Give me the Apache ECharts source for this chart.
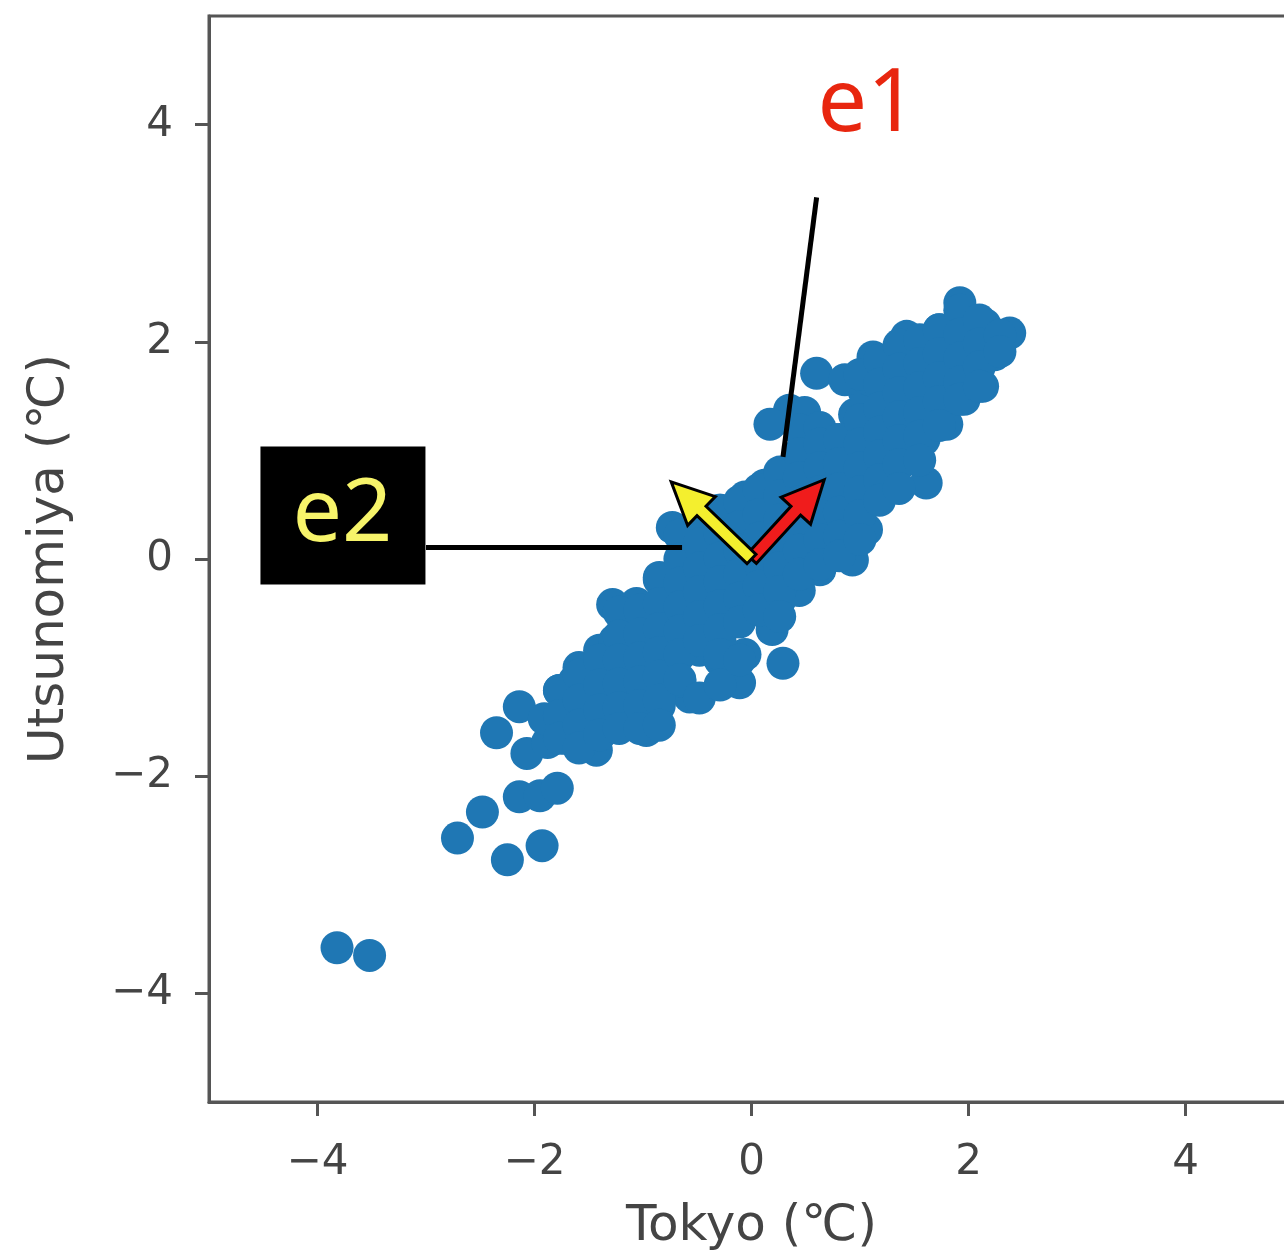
<!DOCTYPE html>
<html>
<head>
<meta charset="utf-8">
<script src="https://cdn.jsdelivr.net/npm/echarts@6/dist/echarts.min.js"></script>
<style>
html, body { margin: 0; background: #fff; }
#chart { width: 1284px; height: 1260px; }
</style>
</head>
<body>
<div id="chart"></div>
<script>
// temperature anomalies, Tokyo (x) vs Utsunomiya (y)
var tokyo = [-3.82,-3.52,-2.71,-2.48,-2.25,-1.93,-2.14,-1.95,-1.79,-2.35,
  -2.14,-2.07,-1.88,-1.72,-1.43,-1.91,-1.72,-1.54,-1.59,-1.40,
  -1.49,-1.31,-1.22,-1.03,-0.97,-1.35,-1.17,-1.03,-0.85,-0.57,
  -0.66,-0.85,-1.26,-1.06,-1.03,-0.85,-0.85,-0.89,-0.66,-0.71,
  -0.48,-0.29,-0.11,-0.29,-0.06,0.29,0.19,-0.48,-0.53,-0.34,
  -0.11,-0.16,0.07,0.26,-0.57,-0.39,-0.73,-0.48,-0.29,-0.06,
  -0.20,0.07,0.03,0.26,0.44,0.44,0.63,0.53,0.93,0.81,
  1.06,0.21,0.35,0.12,0.44,0.72,0.90,0.63,0.86,1.09,
  1.27,1.61,1.41,1.18,1.00,0.76,0.53,0.35,0.17,0.49,
  0.95,1.18,1.36,1.59,1.80,1.64,1.41,1.18,1.04,0.60,
  1.12,1.09,1.32,1.55,1.78,1.96,2.13,1.43,1.64,1.82,
  2.06,2.24,1.92,1.92,2.15,2.38,1.73,-0.02,-0.25,0.17,
  -1.12,-1.31,-1.63,-1.77,-0.06,0.44,0.67,0.86,1.09,1.32,
  1.50,1.04,-1.28,0.86,
  -1.77,-1.77,-1.77,
  -1.59,-1.59,-1.59,-1.59,
  -1.40,-1.40,-1.40,-1.40,
  -1.22,-1.22,-1.22,-1.22,-1.22,-1.22,
  -1.03,-1.03,-1.03,-1.03,-1.03,-1.03,
  -0.85,-0.85,-0.85,-0.85,-0.85,-0.85,-0.85,
  -0.66,-0.66,-0.66,-0.66,-0.66,-0.66,-0.66,
  -0.48,-0.48,-0.48,-0.48,-0.48,-0.48,-0.48,
  -0.29,-0.29,-0.29,-0.29,-0.29,-0.29,-0.29,-0.29,
  -0.11,-0.11,-0.11,-0.11,-0.11,-0.11,-0.11,
  0.07,0.07,0.07,0.07,0.07,0.07,
  0.26,0.26,0.26,0.26,0.26,0.26,0.26,
  0.44,0.44,0.44,0.44,0.44,0.44,0.44,
  0.63,0.63,0.63,0.63,0.63,0.63,0.63,
  0.81,0.81,0.81,0.81,0.81,0.81,
  1.00,1.00,1.00,1.00,1.00,1.00,1.00,
  1.18,1.18,1.18,1.18,1.18,1.18,1.18,
  1.36,1.36,1.36,1.36,1.36,1.36,1.36,
  1.55,1.55,1.55,1.55,1.55,1.55,
  1.73,1.73,1.73,1.73,1.73,
  1.92,1.92,1.92,1.92,1.92,
  2.10,2.10,2.10,2.10,
  2.29,2.29];
var utsunomiya = [-3.58,-3.65,-2.57,-2.33,-2.77,-2.64,-2.19,-2.18,-2.11,-1.60,
  -1.36,-1.79,-1.69,-1.65,-1.76,-1.47,-1.35,-1.21,-1.00,-0.84,
  -1.48,-1.53,-1.30,-1.48,-1.58,-1.12,-1.02,-1.21,-1.35,-1.27,
  -1.12,-1.12,-0.75,-0.41,-0.75,-0.84,-0.17,-0.56,-0.47,-0.75,
  -0.84,-0.93,-1.14,-0.75,-0.88,-0.96,-0.65,-0.56,-0.29,-0.38,
  -0.56,-0.29,-0.47,-0.38,-0.06,0.08,0.29,0.27,0.45,0.57,
  0.18,-0.01,0.27,0.18,-0.01,-0.29,-0.10,0.27,-0.01,0.13,
  0.27,0.45,0.64,0.68,0.82,0.54,0.45,0.91,0.82,0.54,
  0.73,0.70,0.91,1.00,1.10,1.10,1.10,1.37,1.24,1.35,
  1.33,1.28,1.19,1.10,1.24,1.37,1.42,1.51,1.54,1.71,
  1.86,1.65,1.70,1.65,1.51,1.47,1.59,2.05,1.93,1.83,
  1.79,1.88,2.36,2.11,2.16,2.08,2.11,-0.10,-0.10,-0.19,
  -0.56,-0.93,-1.12,-1.21,-0.38,0.36,0.36,1.05,0.87,1.05,
  1.24,1.28,-0.42,1.65,
  -1.21,-1.44,-1.65,
  -1.07,-1.30,-1.53,-1.74,
  -0.93,-1.16,-1.39,-1.62,
  -0.49,-0.71,-0.93,-1.15,-1.37,-1.56,
  -0.47,-0.69,-0.91,-1.13,-1.35,-1.56,
  -0.19,-0.41,-0.64,-0.86,-1.08,-1.30,-1.53,
  0.22,0.00,-0.22,-0.44,-0.66,-0.88,-1.11,
  0.36,0.14,-0.08,-0.30,-0.53,-0.75,-1.28,
  0.45,0.23,0.01,-0.21,-0.43,-0.65,-0.88,-1.16,
  0.53,0.30,0.08,-0.14,-0.36,-0.58,-0.93,
  0.64,0.41,0.19,-0.03,-0.25,-0.47,
  0.80,0.58,0.36,0.14,-0.08,-0.30,-0.53,
  1.19,0.97,0.75,0.53,0.30,0.08,-0.14,
  1.21,1.06,0.84,0.62,0.40,0.18,-0.05,
  1.10,0.88,0.65,0.43,0.21,0.03,
  1.70,1.28,1.06,0.84,0.62,0.40,0.18,
  1.83,1.61,1.39,1.17,0.95,0.73,0.54,
  1.97,1.75,1.53,1.31,1.09,0.87,0.65,
  2.02,1.80,1.58,1.35,1.13,0.91,
  2.11,1.89,1.67,1.45,1.23,
  2.29,2.07,1.85,1.63,1.47,
  2.20,1.98,1.77,1.59,
  2.06,1.91];
var tickValues = [-4, -2, 0, 2, 4];

// principal axes, drawn as arrows from the origin
var vecNames = ['e1', 'e2'];
var vecX = [0.67, -0.74];
var vecY = [0.73, 0.71];
var labelX = [1.07, -3.77];
var labelY = [4.17, 0.40];
var leaderFrom = [[0.60, 3.33], [-3.00, 0.11]];
var leaderTo = [[0.29, 0.94], [-0.64, 0.11]];

var arrowColors = ['#f01c1c', '#f4ef2e'];
var labelColors = ['#e8260f', '#f7f46a'];

var points = tokyo.map(function (x, i) { return [x, utsunomiya[i]]; });

function minus(v) {
    return String(v).replace('-', '\u2212');
}

function renderArrow(params, api) {
    var p0 = api.coord([0, 0]);
    var p1 = api.coord([api.value(0), api.value(1)]);
    var dx = p1[0] - p0[0], dy = p1[1] - p0[1];
    var len = Math.sqrt(dx * dx + dy * dy);
    var ux = dx / len, uy = dy / len;
    var nx = -uy, ny = ux;
    var sw = 6.5, hw = 20, hl = 42;
    var bx = p1[0] - ux * hl, by = p1[1] - uy * hl;
    var pts = [
        [p0[0] + nx * sw, p0[1] + ny * sw],
        [bx + nx * sw, by + ny * sw],
        [bx + nx * hw, by + ny * hw],
        [p1[0], p1[1]],
        [bx - nx * hw, by - ny * hw],
        [bx - nx * sw, by - ny * sw],
        [p0[0] - nx * sw, p0[1] - ny * sw]
    ];
    return {
        type: 'polygon',
        shape: { points: pts },
        style: { fill: arrowColors[params.dataIndex], stroke: '#000', lineWidth: 3, lineJoin: 'miter' }
    };
}

function renderLabel(params, api) {
    var p = api.coord([api.value(0), api.value(1)]);
    var i = params.dataIndex;
    var kids = [];
    if (i === 1) {
        kids.push({ type: 'rect', shape: { x: p[0] - 82, y: p[1] - 69, width: 165, height: 138 }, style: { fill: '#000' } });
    }
    kids.push({
        type: 'text',
        style: { text: vecNames[i], x: p[0], y: p[1], fill: labelColors[i], font: '88px "Noto Sans"', align: 'center', verticalAlign: 'middle' }
    });
    return { type: 'group', children: kids };
}

var nameFont = { fontSize: 50, color: '#444', fontFamily: 'DejaVu Sans' };

var chart = echarts.init(document.getElementById('chart'));
chart.setOption({
    animation: false,
    backgroundColor: '#fff',
    grid: {
        left: 209, right: -10, top: 16, bottom: 158,
        show: true, borderColor: '#555', borderWidth: 3,
        outerBoundsMode: 'none'
    },
    xAxis: {
        type: 'value', min: -5, max: 5,
        name: 'Tokyo (℃)', nameLocation: 'middle', nameGap: 100,
        nameTextStyle: nameFont,
        axisLine: { show: true, onZero: false, lineStyle: { color: '#555', width: 3 } },
        axisTick: { show: true, length: 14, customValues: tickValues, lineStyle: { color: '#555', width: 3 } },
        axisLabel: { customValues: tickValues, formatter: minus, margin: 40, fontSize: 42, color: '#444', fontFamily: 'DejaVu Sans' },
        splitLine: { show: false }
    },
    yAxis: {
        type: 'value', min: -5, max: 5,
        name: 'Utsunomiya (℃)', nameLocation: 'middle', nameGap: 134,
        nameTextStyle: nameFont,
        axisLine: { show: true, onZero: false, lineStyle: { color: '#555', width: 3 } },
        axisTick: { show: true, length: 14, customValues: tickValues, lineStyle: { color: '#555', width: 3 } },
        axisLabel: { customValues: tickValues, formatter: minus, margin: 36, fontSize: 42, color: '#444', fontFamily: 'DejaVu Sans' },
        splitLine: { show: false }
    },
    series: [
        {
            type: 'scatter',
            data: points,
            symbolSize: 33,
            itemStyle: { color: '#1f77b4', opacity: 1 },
            markLine: {
                silent: true,
                symbol: 'none',
                label: { show: false },
                lineStyle: { color: '#000', width: 5, type: 'solid' },
                data: leaderFrom.map(function (a, i) {
                    return [{ coord: a }, { coord: leaderTo[i] }];
                })
            }
        },
        {
            type: 'custom',
            z: 5,
            renderItem: renderArrow,
            data: vecX.map(function (x, i) { return [x, vecY[i]]; })
        },
        {
            type: 'custom',
            z: 6,
            renderItem: renderLabel,
            data: labelX.map(function (x, i) { return [x, labelY[i]]; })
        }
    ]
});
</script>
</body>
</html>
